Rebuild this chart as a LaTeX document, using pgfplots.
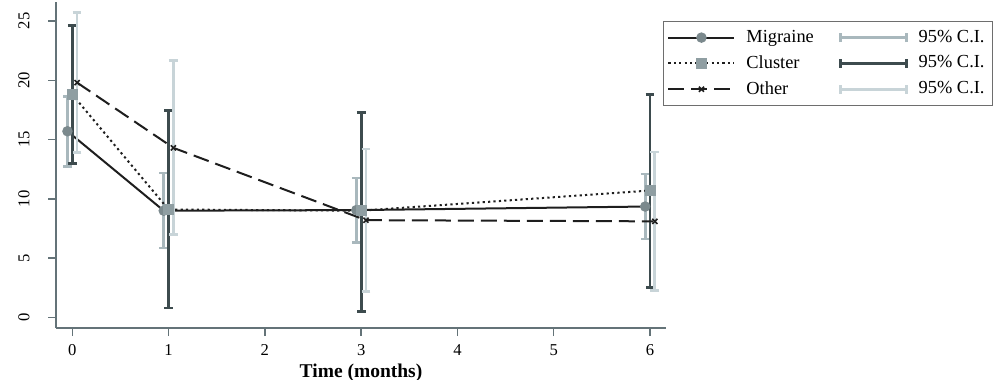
\documentclass[border=0pt]{standalone}
\usepackage{fontspec}
\setmainfont{Liberation Serif}
\usepackage{pgfplots}
\pgfplotsset{compat=1.18}
\definecolor{spine}{RGB}{100,115,120}
\definecolor{ciA}{RGB}{169,184,189}
\definecolor{ciB}{RGB}{61,75,78}
\definecolor{ciC}{RGB}{200,212,216}
\definecolor{mkA}{RGB}{123,137,141}
\definecolor{mkB}{RGB}{143,158,162}
\definecolor{ln}{RGB}{30,30,30}
\definecolor{lgd}{RGB}{110,110,110}
\pgfplotsset{
  lineleg/.style={legend image code/.code={\draw[##1, mark repeat=2, mark phase=2] plot coordinates {(0bp,0bp) (16.5bp,0bp) (33bp,0bp)};}},
  cileg/.style={legend image code/.code={\draw[draw=#1, line width=1.4bp] (0bp,0bp) -- (33bp,0bp) (0bp,-2.2bp) -- (0bp,2.2bp) (33bp,-2.2bp) -- (33bp,2.2bp);}},
  ci/.style={draw=none, mark=none, cileg=#1,
    error bars/.cd, y dir=both, y explicit, error mark=-,
    error bar style={draw=#1, line width=1.4bp, solid},
    error mark options={rotate=90, mark size=2.2bp, draw=#1, line width=1.4bp, solid}},
}
\begin{document}
\begin{tikzpicture}
\useasboundingbox (-28bp,-26bp) rectangle (472bp,164bp);
\begin{axis}[
  at={(0,0)}, anchor=south west,
  scale only axis, width=305bp, height=163bp,
  xmin=-0.169, xmax=6.166, ymin=-0.894, ymax=26.6,
  axis lines*=left,
  axis line style={spine, line width=0.75bp},
  every tick/.style={spine, line width=0.75bp},
  tick align=outside, major tick length=4bp,
  xtick={0,...,6}, ytick={0,5,...,25},
  /pgf/number format/assume math mode=true,
  tick label style={font=\fontsize{8.3bp}{9.5bp}\selectfont, text=black},
  xticklabel style={anchor=base, yshift=-9.8bp},
  yticklabel style={xshift=-9.3bp, rotate=90, anchor=base},
  xlabel={Time (months)},
  xlabel style={at={(axis description cs:0.5,0)}, anchor=base, yshift=-24.5bp, font=\bfseries\fontsize{9.75bp}{11bp}\selectfont},
  legend columns=2,
  legend style={at={(axis description cs:0.995,0.942)}, anchor=north west,
    draw=lgd, line width=0.5bp, font=\fontsize{9.2bp}{10bp}\selectfont,
    inner xsep=2bp, inner ysep=2.3bp, row sep=1.1bp,
    /tikz/every odd column/.append style={column sep=3.5bp},
    /tikz/every even column/.append style={column sep=10.5bp},
    cells={anchor=west}},
  clip=false,
]
% Migraine
\addplot[ln, line width=1bp, solid, mark=*, mark size=2.1bp, mark options={solid, fill=mkA, draw=mkA}, lineleg]
  coordinates {(-0.05,15.7) (0.95,9.0) (2.95,9.05) (5.95,9.35)};
\addlegendentry{Migraine}
\addplot[ci=ciA]
  coordinates {(-0.05,15.65) +- (0,2.95) (0.95,9.015) +- (0,3.165) (2.95,9.035) +- (0,2.715) (5.95,9.35) +- (0,2.74)};
\addlegendentry{95\% C.I.\hspace{10.5bp}}
% Cluster
\addplot[ln, line width=1bp, dash pattern=on 1.1bp off 1.6bp, mark=square*, mark size=2.25bp, mark options={solid, fill=mkB, draw=mkB}, lineleg]
  coordinates {(0,18.8) (1,9.1) (3,9.0) (6,10.7)};
\addlegendentry{Cluster}
\addplot[ci=ciB]
  coordinates {(0,18.8) +- (0,5.8) (1,9.125) +- (0,8.335) (3,8.9) +- (0,8.39) (6,10.655) +- (0,8.125)};
\addlegendentry{95\% C.I.\hspace{10.5bp}}
% Other
\addplot[ln, line width=1bp, dash pattern=on 8bp off 3.5bp, mark=x, mark size=1.8bp, mark options={solid, line width=0.8bp, ln}, lineleg]
  coordinates {(0.05,19.8) (1.05,14.3) (3.05,8.2) (6.05,8.1)};
\addlegendentry{Other}
\addplot[ci=ciC]
  coordinates {(0.05,19.8) +- (0,5.9) (1.05,14.31) +- (0,7.34) (3.05,8.195) +- (0,6.005) (6.05,8.1) +- (0,5.85)};
\addlegendentry{95\% C.I.\hspace{10.5bp}}
\end{axis}
\end{tikzpicture}
\end{document}
